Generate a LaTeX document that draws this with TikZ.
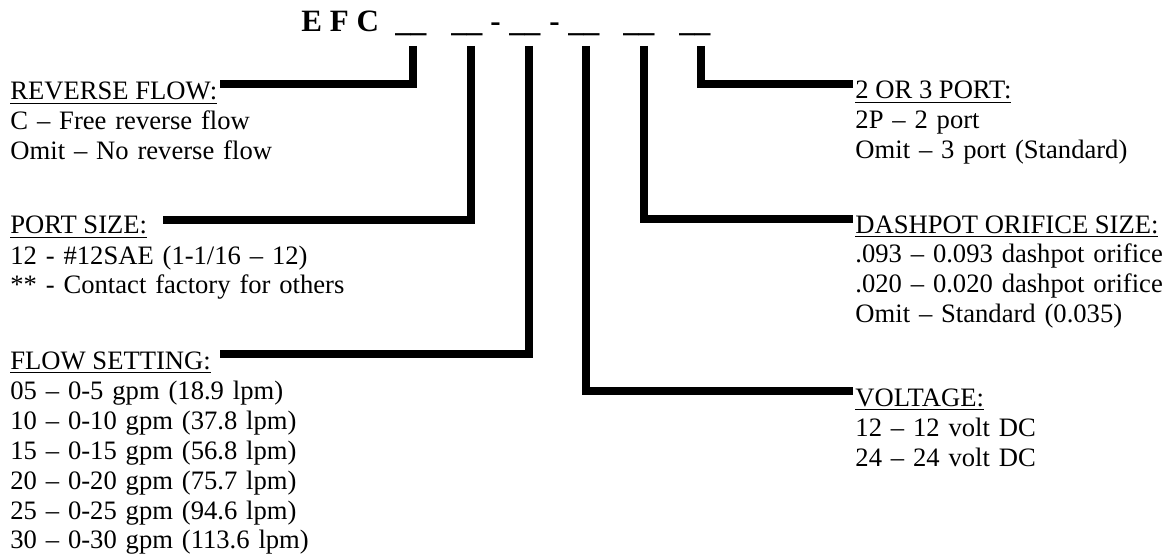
\documentclass[tikz,border=0pt]{standalone}
\usepackage{fontspec}
\setmainfont{Liberation Serif}
\usepackage{tikz}
\tikzset{
  leader/.style={line width=3.4pt, line join=miter, line cap=butt},
  code/.style={anchor=base west, inner sep=0pt, font=\fontsize{14}{16}\selectfont\bfseries},
  hd/.style={anchor=base west, inner sep=0pt, font=\fontsize{12}{13.5}\selectfont},
  items/.style={anchor=base west, inner sep=0pt, text width=220pt, align=left,
                font=\fontsize{12}{13.53}\selectfont},
}

\begin{document}
\begin{tikzpicture}[x=0.451pt, y=-0.451pt]
    \useasboundingbox (0,0) rectangle (1163,556);
    \node[code] (efc) at (301,32) {E F C};
    \node[code] (b1) at (395,32) {\_\_};
    \node[code] (b2) at (451,32) {\_\_};
    \node[code] (d1) at (490,32) {-};
    \node[code] (b3) at (509,32) {\_\_};
    \node[code] (d2) at (549,32) {-};
    \node[code] (b4) at (568,32) {\_\_};
    \node[code] (b5) at (623,32) {\_\_};
    \node[code] (b6) at (679,32) {\_\_};

    \node[hd] (rev) at (10,100) {\underline{REVERSE FLOW:}};
    \node[items] (revopt) at ([shift={(0,30)}]rev.base west) {%
      C – Free reverse flow\\
      Omit – No reverse flow};
    \node[hd] (port) at (10,234) {\underline{PORT SIZE:}};
    \node[items] (portopt) at ([shift={(0,30)}]port.base west) {%
      12 - \#12SAE (1-1/16 – 12)\\
      {**} - Contact factory for others};
    \node[hd] (flow) at (10,369) {\underline{FLOW SETTING:}};
    \node[items] (flowopt) at ([shift={(0,30)}]flow.base west) {%
      05 – 0-5 gpm (18.9 lpm)\\
      10 – 0-10 gpm (37.8 lpm)\\
      15 – 0-15 gpm (56.8 lpm)\\
      20 – 0-20 gpm (75.7 lpm)\\
      25 – 0-25 gpm (94.6 lpm)\\
      30 – 0-30 gpm (113.6 lpm)};

    \node[hd] (ports) at (855,99) {\underline{2 OR 3 PORT:}};
    \node[items] (portsopt) at ([shift={(0,30)}]ports.base west) {%
      2P – 2 port\\
      Omit – 3 port (Standard)};
    \node[hd] (dash) at (855,233) {\underline{DASHPOT ORIFICE SIZE:}};
    \node[items] (dashopt) at ([shift={(0,30)}]dash.base west) {%
      .093 – 0.093 dashpot orifice\\
      .020 – 0.020 dashpot orifice\\
      Omit – Standard (0.035)};
    \node[hd] (volt) at (855,406) {\underline{VOLTAGE:}};
    \node[items] (voltopt) at ([shift={(0,30)}]volt.base west) {%
      12 – 12 volt DC\\
      24 – 24 volt DC};

    \draw[leader] ([shift={(2,14)}]b1.base) |- ([shift={(2,-16)}]rev.base east);
    \draw[leader] ([shift={(4,14)}]b2.base) |- ([shift={(15,-14)}]port.base east);
    \draw[leader] ([shift={(4,14)}]b3.base) |- ([shift={(9,-15)}]flow.base east);
    \draw[leader] ([shift={(2,14)}]b4.base) |- ([shift={(-2,-15)}]volt.base west);
    \draw[leader] ([shift={(5,14)}]b5.base) |- ([shift={(-2,-14)}]dash.base west);
    \draw[leader] ([shift={(6,14)}]b6.base) |- ([shift={(-2,-15)}]ports.base west);
\end{tikzpicture}
\end{document}
